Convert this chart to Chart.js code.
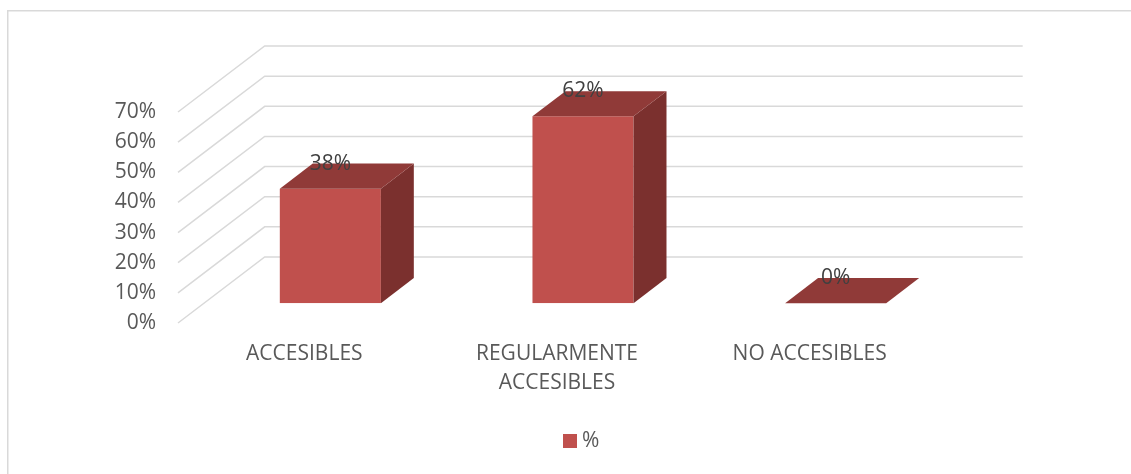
<!DOCTYPE html>
<html>
<head>
<meta charset="utf-8">
<script src="https://cdn.jsdelivr.net/npm/chart.js@4.4.1/dist/chart.umd.min.js"></script>
<style>
html,body{margin:0;padding:0;background:#fff;}
#wrap{width:1131px;height:474px;position:relative;overflow:hidden;}
canvas{display:block;}
</style>
</head>
<body>
<div id="wrap"><canvas id="c" width="1131" height="474"></canvas></div>
<script>
// ---- data ----
const categories = ['ACCESIBLES', ['REGULARMENTE', 'ACCESIBLES'], 'NO ACCESIBLES'];
const seriesName = '%';
const seriesValues = [38, 62, 0];
const yTickValues = [0, 10, 20, 30, 40, 50, 60, 70];
const yTickLabels = ['0%', '10%', '20%', '30%', '40%', '50%', '60%', '70%'];
const dataLabels = ['38%', '62%', '0%'];

// ---- styling ----
const FONT = '"Open Sans", "Liberation Sans", sans-serif';
const FRONT = '#c0504d', TOP = '#903a38', SIDE = '#7b302e';
const D = { dx: 86.7, dy: -66, front: 0.30, depth: 0.38 };

const bars3d = {
  id: 'bars3d',
  beforeDraw(chart) {
    const ctx = chart.ctx;
    ctx.save();
    ctx.strokeStyle = '#d9d9d9';
    ctx.lineWidth = 1.5;
    ctx.strokeRect(7.75, 10.75, 1200, 600);
    ctx.restore();
  },
  beforeDatasetsDraw(chart) {
    const { ctx, chartArea: a, scales: { y } } = chart;
    ctx.save();
    ctx.strokeStyle = '#d9d9d9';
    ctx.lineWidth = 1.5;
    y.ticks.forEach(t => {
      const py = y.getPixelForValue(t.value);
      ctx.beginPath();
      ctx.moveTo(a.left, py);
      ctx.lineTo(a.left + D.dx, py + D.dy);
      ctx.lineTo(a.right + D.dx, py + D.dy);
      ctx.stroke();
    });
    ctx.restore();
    ctx.save();
    ctx.translate(D.dx * D.front, D.dy * D.front);
  },
  afterDatasetsDraw(chart) {
    const ctx = chart.ctx;
    ctx.restore();
    const meta = chart.getDatasetMeta(0);
    const ox = D.dx * D.front, oy = D.dy * D.front;
    const bx = D.dx * D.depth, by = D.dy * D.depth;
    meta.data.forEach((bar, i) => {
      const { x, y, base, width } = bar.getProps(['x', 'y', 'base', 'width'], true);
      const l = x - width / 2 + ox, r = x + width / 2 + ox;
      const t = y + oy, b = base + oy;
      ctx.save();
      // side face
      if (b - t > 0.5) {
        ctx.fillStyle = SIDE;
        ctx.beginPath();
        ctx.moveTo(r, t); ctx.lineTo(r + bx, t + by); ctx.lineTo(r + bx, b + by); ctx.lineTo(r, b);
        ctx.closePath(); ctx.fill();
      }
      // top face
      ctx.fillStyle = TOP;
      ctx.beginPath();
      ctx.moveTo(l, t); ctx.lineTo(l + bx, t + by); ctx.lineTo(r + bx, t + by); ctx.lineTo(r, t);
      ctx.closePath(); ctx.fill();
      // data label
      ctx.fillStyle = '#404040';
      ctx.font = '21px ' + FONT;
      ctx.textAlign = 'center';
      ctx.textBaseline = 'middle';
      ctx.fillText(dataLabels[i], x + ox, t + by);
      ctx.restore();
    });
    // legend
    const ds = chart.data.datasets[0];
    ctx.save();
    ctx.fillStyle = ds.backgroundColor;
    ctx.fillRect(563, 434, 14, 14);
    ctx.fillStyle = '#595959';
    ctx.font = '21px ' + FONT;
    ctx.textAlign = 'left';
    ctx.textBaseline = 'middle';
    ctx.fillText(ds.label, 582, 441);
    ctx.restore();
  }
};

new Chart(document.getElementById('c'), {
  type: 'bar',
  data: {
    labels: categories,
    datasets: [{
      label: seriesName,
      data: seriesValues,
      backgroundColor: FRONT,
      borderWidth: 0,
      barPercentage: 0.4,
      categoryPercentage: 1.0
    }]
  },
  options: {
    responsive: false,
    animation: false,
    events: [],
    layout: { padding: { left: 0, right: 195, top: 112, bottom: 0 } },
    plugins: { legend: { display: false }, tooltip: { enabled: false } },
    scales: {
      x: {
        grid: { display: false, drawTicks: false },
        border: { display: false },
        ticks: {
          color: '#595959',
          font: { family: FONT, size: 21, lineHeight: '29px' },
          padding: 17,
          maxRotation: 0,
          autoSkip: false
        },
        afterFit(s) { s.height = 151; }
      },
      y: {
        min: 0, max: 70,
        grid: { display: false, drawTicks: false },
        border: { display: false },
        afterBuildTicks(s) { s.ticks = yTickValues.map(v => ({ value: v })); },
        ticks: {
          color: '#595959',
          font: { family: FONT, size: 21 },
          padding: 22,
          callback: (v, i) => yTickLabels[i]
        },
        afterFit(s) { s.width = 178; }
      }
    }
  },
  plugins: [bars3d]
});
</script>
</body>
</html>
